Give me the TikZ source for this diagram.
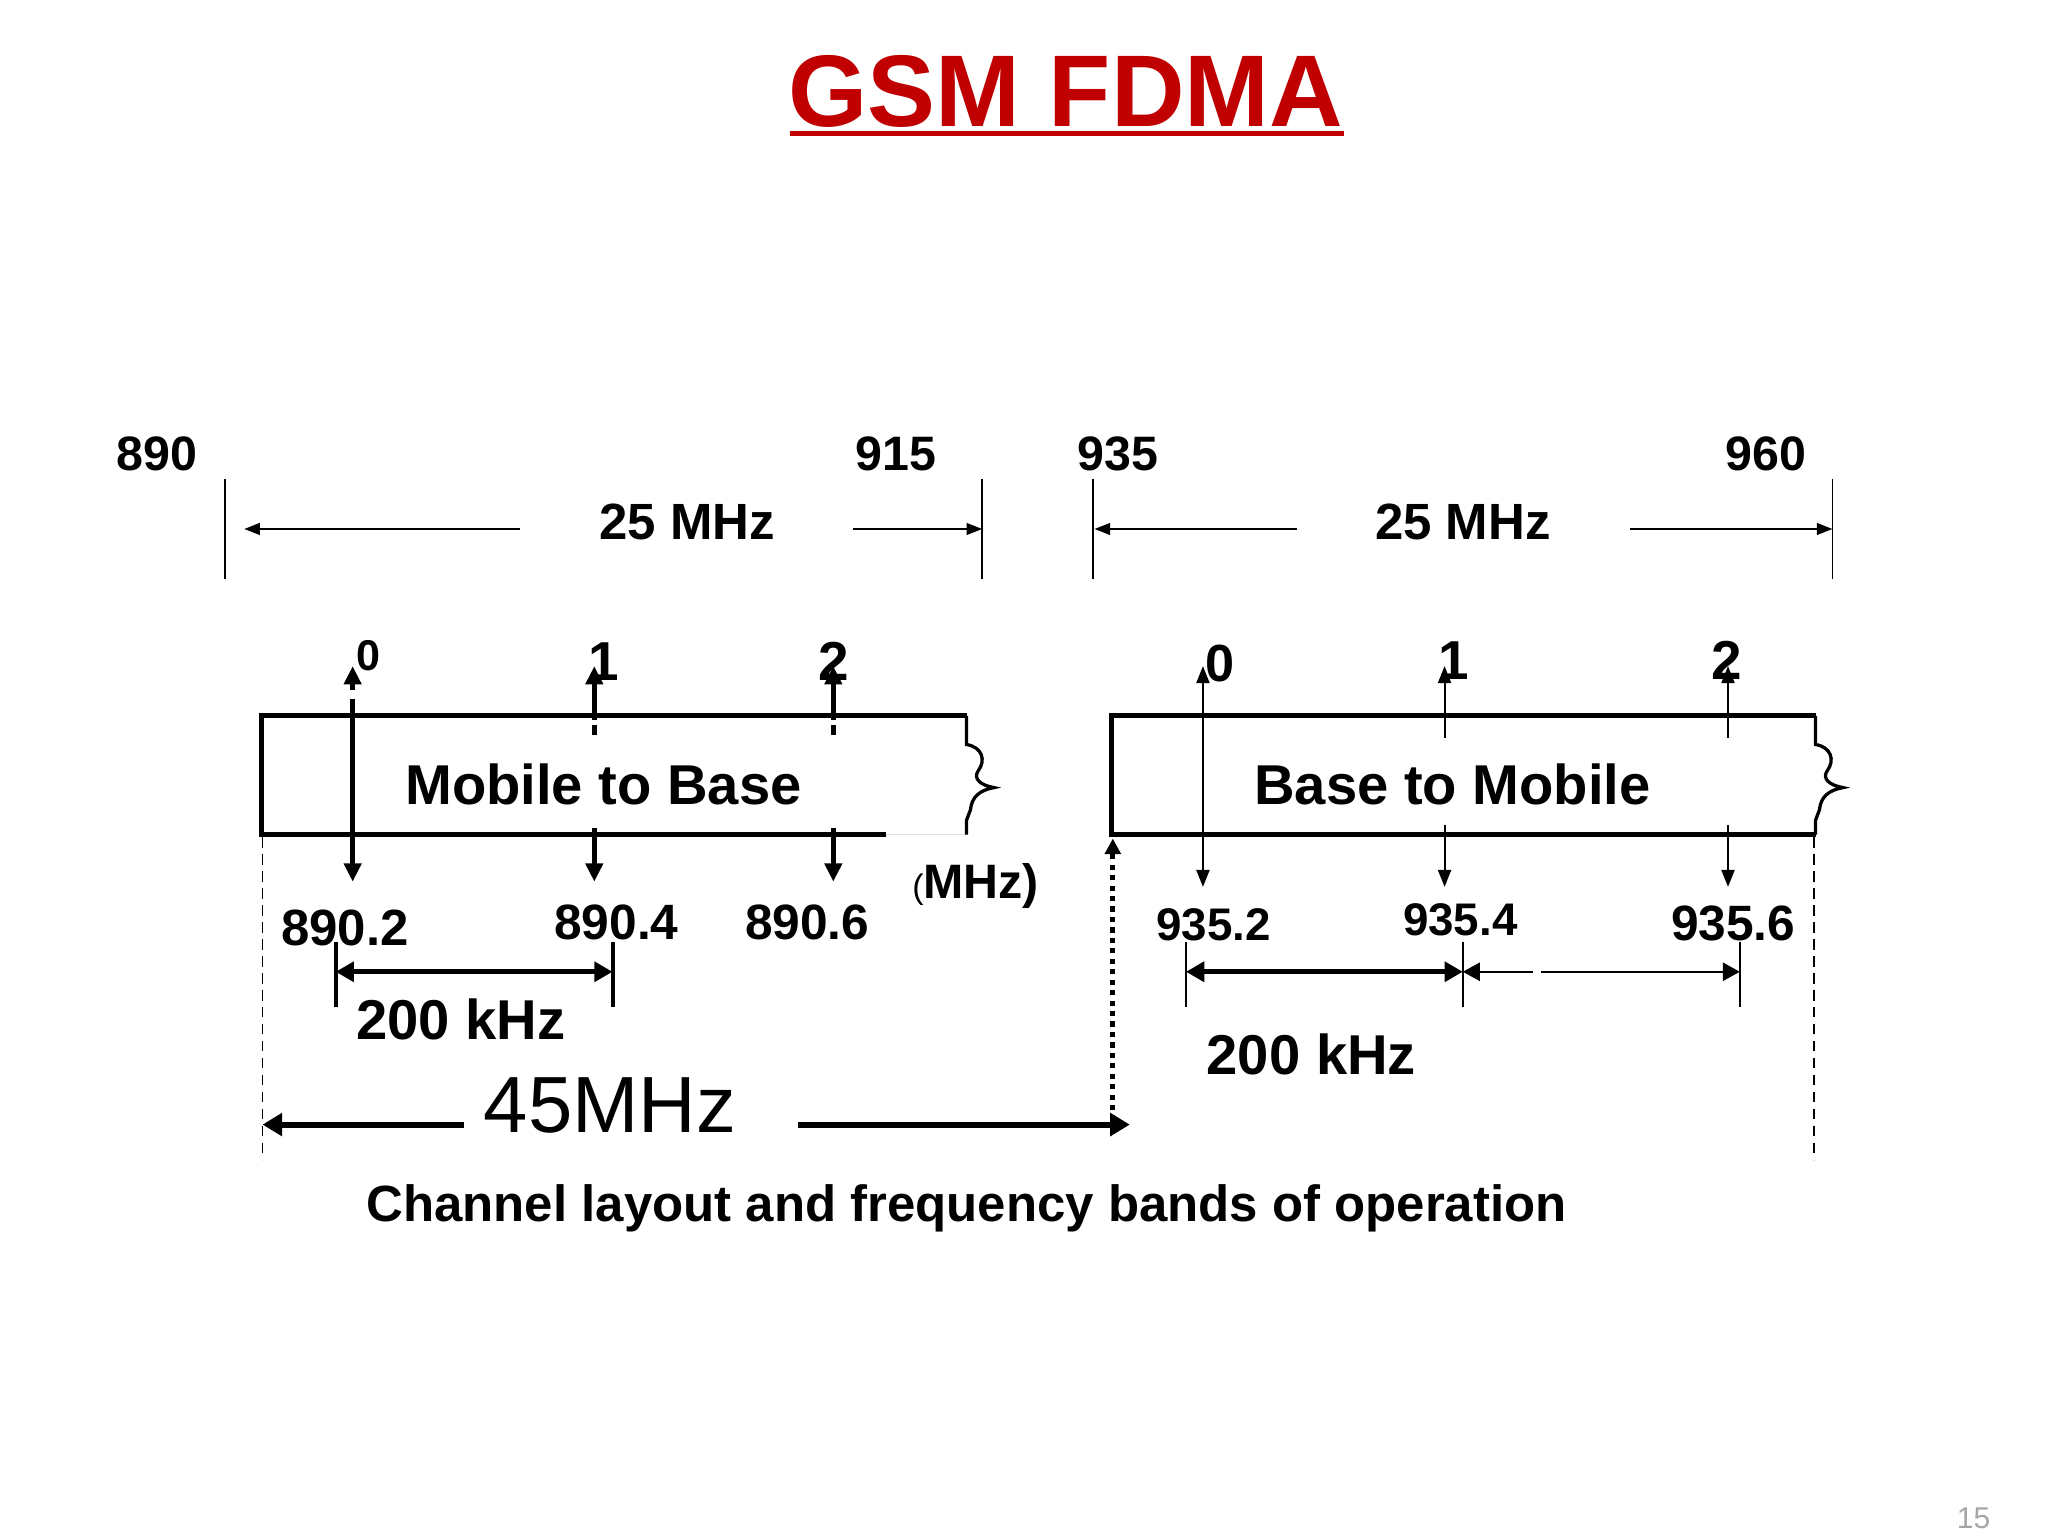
\documentclass[tikz,border=0pt]{standalone}
\usepackage{fontspec}
\setmainfont{Liberation Sans}
\usetikzlibrary{arrows.meta}
\definecolor{titlered}{RGB}{192,0,0}
\newcommand{\fsz}[1]{\fontsize{#1}{#1}\selectfont}
\begin{document}
\begin{tikzpicture}[x=1pt,y=-1pt,
  txt/.style={inner sep=0pt, anchor=base, font=\bfseries},
  thinline/.style={line width=1.5pt},
  boxline/.style={line width=4pt},
  smallarrow/.style={line width=1.5pt, -{Triangle[length=12pt,width=9pt]}},
  chthick/.style={line width=3.5pt, -{Triangle[length=14pt,width=13pt]}},
  chthin/.style={line width=1.5pt, -{Triangle[length=13pt,width=10pt]}},
  dimthick/.style={line width=4pt, {Triangle[length=14pt,width=15pt]}-{Triangle[length=14pt,width=15pt]}},
  bigarrow/.style={line width=4.5pt, -{Triangle[length=15pt,width=17pt]}},
  breakline/.pic={\draw[line width=2.5pt] (0,548) -- (0,570) .. controls (12,572) and (15,582) .. (9,590) .. controls (5,596) and (10,601) .. (21,603) .. controls (10,605) and (4,610) .. (3,620) -- (0,628) -- (0,639);}
]
\useasboundingbox[fill=white] (0,0) rectangle (1568,1176);

% Title
\node[txt, text=titlered, font=\bfseries\fsz{78}] (title) at (816,97) {GSM FDMA};
\coordinate (ulA) at (605,102); \coordinate (ulB) at (1029,102);
\draw[titlered, line width=4pt] (ulA) -- (ulB);

% top labels
\node[txt, font=\bfseries\fsz{37}] (l890) at (120,360) {890};
\node[txt, font=\bfseries\fsz{37}] (l915) at (686,360) {915};
\node[txt, font=\bfseries\fsz{37}] (l935) at (856,360) {935};
\node[txt, font=\bfseries\fsz{37}] (l960) at (1352,360) {960};

% band limit lines
\coordinate (v1a) at (172,367); \coordinate (v1b) at (172,443);
\coordinate (v2a) at (752,367); \coordinate (v2b) at (752,443);
\coordinate (v3a) at (837,367); \coordinate (v3b) at (837,443);
\coordinate (v4a) at (1403,367); \coordinate (v4b) at (1403,443);
\draw[thinline] (v1a) -- (v1b);
\draw[thinline] (v2a) -- (v2b);
\draw[thinline] (v3a) -- (v3b);
\draw[thinline] (v4a) -- (v4b);

% 25 MHz arrows
\node[txt, font=\bfseries\fsz{39}] (bw1) at (526,413) {25 MHz};
\node[txt, font=\bfseries\fsz{39}] (bw2) at (1120,413) {25 MHz};
\coordinate (a1s) at (398,405); \coordinate (a1e) at (187,405);
\coordinate (a2s) at (653,405); \coordinate (a2e) at (752,405);
\coordinate (a3s) at (993,405); \coordinate (a3e) at (838,405);
\coordinate (a4s) at (1248,405); \coordinate (a4e) at (1403,405);
\draw[smallarrow] (a1s) -- (a1e);
\draw[smallarrow] (a2s) -- (a2e);
\draw[smallarrow] (a3s) -- (a3e);
\draw[smallarrow] (a4s) -- (a4e);

% Box 1 : Mobile to Base
\coordinate (b1tl) at (200,548); \coordinate (b1tr) at (740,548);
\coordinate (b1bl) at (200,639); \coordinate (b1bm) at (678,639); \coordinate (b1br) at (738,639);
\draw[boxline] (b1tr) -- (b1tl) -- (b1bl) -- (b1bm);
\draw[gray!25, line width=1pt] (b1bm) -- (b1br);
\pic at (740,0) {breakline};
\node[txt, font=\bfseries\fsz{43}] (mtb) at (462,616) {Mobile to Base};

% Box 2 : Base to Mobile
\coordinate (b2tl) at (851,548); \coordinate (b2tr) at (1390,548);
\coordinate (b2bl) at (851,639); \coordinate (b2br) at (1390,639);
\draw[boxline] (b2tr) -- (b2tl) -- (b2bl) -- (b2br);
\pic at (1390,0) {breakline};
\node[txt, font=\bfseries\fsz{43}] (btm) at (1112,616) {Base to Mobile};

% channel numbers
\node[txt, font=\bfseries\fsz{33}] (c10) at (282,513) {0};
\node[txt, font=\bfseries\fsz{42}] (c11) at (462,521) {1};
\node[txt, font=\bfseries\fsz{42}] (c12) at (638,521) {2};
\node[txt, font=\bfseries\fsz{40}] (c20) at (934,522) {0};
\node[txt, font=\bfseries\fsz{42}] (c21) at (1113,520) {1};
\node[txt, font=\bfseries\fsz{42}] (c22) at (1322,520) {2};

% box 1 channel arrows (thick)
\coordinate (k0u) at (270,510); \coordinate (k0h) at (270,528);
\coordinate (k0m) at (270,535); \coordinate (k0d) at (270,675);
\draw[chthick] (k0h) -- (k0u);
\draw[chthick] (k0m) -- (k0d);
\foreach \xx/\nn in {455/1,638/2}{
  \coordinate (k\nn u) at (\xx,510); \coordinate (k\nn h) at (\xx,551);
  \coordinate (k\nn s) at (\xx,555); \coordinate (k\nn t) at (\xx,563);
  \coordinate (k\nn b) at (\xx,634); \coordinate (k\nn d) at (\xx,675);
  \draw[chthick] (k\nn h) -- (k\nn u);
  \draw[line width=3.5pt] (k\nn s) -- (k\nn t);
  \draw[chthick] (k\nn b) -- (k\nn d);
}

% box 2 channel arrows (thin)
\coordinate (m0u) at (921,510); \coordinate (m0d) at (921,679);
\draw[chthin, {Triangle[length=13pt,width=10pt]}-{Triangle[length=13pt,width=10pt]}] (m0u) -- (m0d);
\foreach \xx/\nn in {1106/1,1323/2}{
  \coordinate (m\nn u) at (\xx,510); \coordinate (m\nn t) at (\xx,565);
  \coordinate (m\nn b) at (\xx,632); \coordinate (m\nn d) at (\xx,679);
  \draw[chthin] (m\nn t) -- (m\nn u);
  \draw[chthin] (m\nn b) -- (m\nn d);
}

% frequency labels
\node[txt, font=\bfseries\fsz{39}] (f8902) at (264,724) {890.2};
\node[txt, font=\bfseries\fsz{38}] (f8904) at (472,719) {890.4};
\node[txt, font=\bfseries\fsz{38}] (f8906) at (618,719) {890.6};
\node[txt, font=\bfseries\fsz{37}] (unit) at (747,688) {{\fsz{26}\mdseries(}MHz)};
\node[txt, font=\bfseries\fsz{35}] (f9352) at (929,720) {935.2};
\node[txt, font=\bfseries\fsz{35}] (f9354) at (1118,716) {935.4};
\node[txt, font=\bfseries\fsz{38}] (f9356) at (1327,720) {935.6};

% 200 kHz dimension, box 1
\coordinate (d1a) at (257,721); \coordinate (d1b) at (257,771);
\coordinate (d2a) at (469,721); \coordinate (d2b) at (469,771);
\draw[line width=3pt] (d1a) -- (d1b);
\draw[line width=3pt] (d2a) -- (d2b);
\coordinate (d1m) at (257,744); \coordinate (d2m) at (469,744);
\draw[dimthick] (d1m) -- (d2m);
\node[txt, font=\bfseries\fsz{43}] (k200a) at (353,796) {200 kHz};

% 200 kHz dimension, box 2
\coordinate (e1a) at (908,721); \coordinate (e1b) at (908,771);
\coordinate (e2a) at (1120,721); \coordinate (e2b) at (1120,771);
\coordinate (e3a) at (1332,721); \coordinate (e3b) at (1332,771);
\draw[thinline] (e1a) -- (e1b);
\draw[thinline] (e2a) -- (e2b);
\draw[thinline] (e3a) -- (e3b);
\coordinate (e1m) at (908,744); \coordinate (e2m) at (1120,744); \coordinate (e3m) at (1332,744);
\draw[dimthick] (e1m) -- (e2m);
\coordinate (g1) at (1174,744); \coordinate (g2) at (1180,744);
\draw[line width=1.5pt, {Triangle[length=13pt,width=14pt]}-] (e2m) -- (g1);
\draw[line width=1.5pt, -{Triangle[length=13pt,width=14pt]}] (g2) -- (e3m);
\node[txt, font=\bfseries\fsz{43}] (k200b) at (1004,823) {200 kHz};

% 45 MHz duplex spacing
\coordinate (dl1) at (201,641); \coordinate (dl2) at (201,888);
\draw[line width=1.3pt, dash pattern=on 8pt off 5pt] (dl1) -- (dl2);
\coordinate (dr1) at (1389,641); \coordinate (dr2) at (1389,888);
\draw[line width=1.3pt, dash pattern=on 8pt off 5pt] (dr1) -- (dr2);
\coordinate (dd1) at (852,866); \coordinate (dd2) at (852,642);
\draw[line width=4pt, dash pattern=on 4pt off 4pt, -{Triangle[length=12pt,width=12pt]}] (dd1) -- (dd2);
\node[txt, font=\fsz{61}] (d45) at (467,867) {45MHz};
\coordinate (h1s) at (355,861); \coordinate (h1e) at (201,861);
\coordinate (h2s) at (611,861); \coordinate (h2e) at (865,861);
\draw[bigarrow] (h1s) -- (h1e);
\draw[bigarrow] (h2s) -- (h2e);

% caption
\node[txt, font=\bfseries\fsz{39}] (cap) at (740,935) {Channel layout and frequency bands of operation};

% page number
\node[txt, text=gray!70, font=\fsz{23}] (pg) at (1511,1170) {15};
\end{tikzpicture}
\end{document}
